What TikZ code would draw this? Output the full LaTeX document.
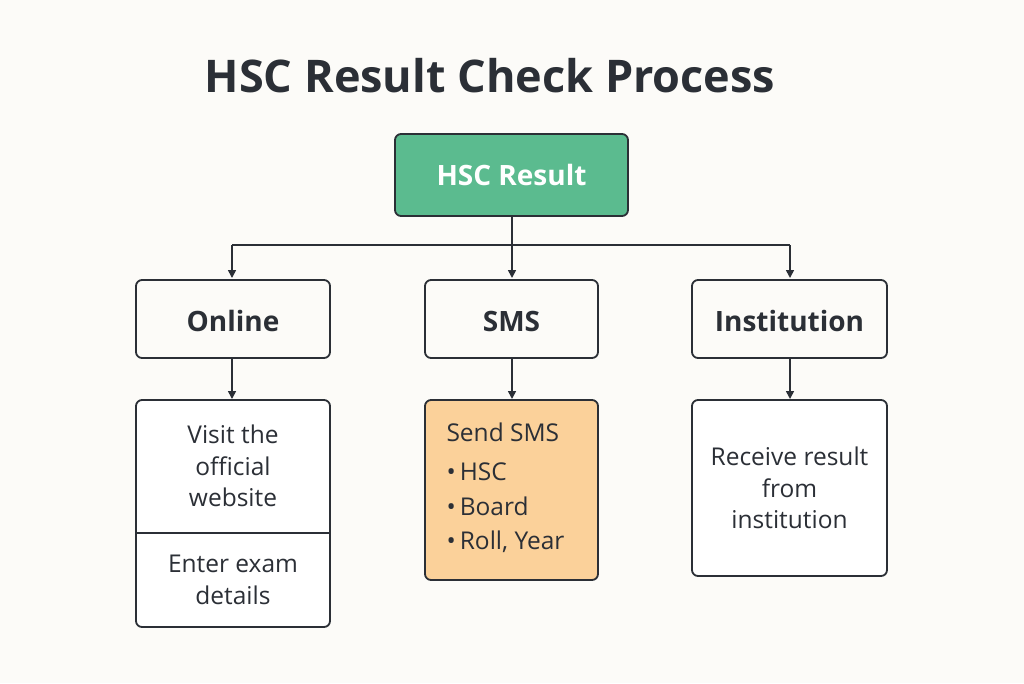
\documentclass[tikz,border=0pt]{standalone}
\usepackage{fontspec}
\setmainfont{Open Sans}
\usetikzlibrary{arrows.meta}
\definecolor{ink}{HTML}{2B2F36}
\definecolor{bg}{HTML}{FCFBF8}
\definecolor{grn}{HTML}{5BBB8F}
\definecolor{org}{HTML}{FBD19A}
\begin{document}
\begin{tikzpicture}[x=1pt,y=-1pt,
  box/.style={draw=ink,line width=1.8pt,rounded corners=6pt},
  arr/.style={draw=ink,line width=1.6pt,-{Triangle[length=8pt,width=8pt]}},
  lab/.style={font=\fontsize{28}{32}\selectfont\bfseries,text=ink},
  body/.style={font=\fontsize{24.5}{31.5}\selectfont,text=ink,align=center}]
\fill[bg] (0,0) rectangle (1024,683);
\useasboundingbox (0,0) rectangle (1024,683);
\node[font=\fontsize{45}{50}\selectfont\bfseries,text=ink] (title) at (490,76) {HSC Result Check Process};
\draw[box,fill=grn] (395,134) rectangle (628,216);
\node[font=\fontsize{28}{32}\selectfont\bfseries,text=white] (hsc) at (511.5,175) {HSC Result};
\coordinate (hb) at (512,216);
\coordinate (jl) at (232,245);\coordinate (jm) at (512,245);\coordinate (jr) at (790,245);
\draw[box] (136,280) rectangle (330,358);
\node[lab] (on) at (233,321) {Online};
\draw[box] (425,280) rectangle (598,358);
\node[lab] (sms) at (511.5,321) {SMS};
\draw[box] (692,280) rectangle (887,358);
\node[lab] (inst) at (789.5,321) {Institution};
\coordinate (onT) at (232,278);\coordinate (smsT) at (512,278);\coordinate (instT) at (790,278);
\draw[draw=ink,line width=1.6pt] (hb) -- (jm);
\draw[draw=ink,line width=1.6pt] (jl) -- (jr);
\draw[arr] (jl) -- (onT);
\draw[arr] (jm) -- (smsT);
\draw[arr] (jr) -- (instT);
\coordinate (onB) at (232,358);\coordinate (smsB) at (512,358);\coordinate (instB) at (790,358);
\coordinate (on2) at (232,399);\coordinate (sms2) at (512,399);\coordinate (inst2) at (790,399);
\draw[arr] (onB) -- (on2);
\draw[arr] (smsB) -- (sms2);
\draw[arr] (instB) -- (inst2);
\draw[box,fill=white] (136,400) rectangle (330,627);
\draw[ink,line width=1.8pt] (136,533) -- (330,533);
\node[body] (visit) at (233,466) {Visit the\\official\\website};
\node[body] (enter) at (233,580) {Enter exam\\details};
\draw[box,fill=org] (425,400) rectangle (598,580);
\node[body,align=left,anchor=north west,font=\fontsize{24.5}{34.5}\selectfont] (send) at (443,419) {Send SMS\\[5pt]•\,HSC\\•\,Board\\•\,Roll, Year};
\draw[box,fill=white] (692,400) rectangle (887,576);
\node[body] (recv) at (789.5,488) {Receive result\\from\\institution};
\end{tikzpicture}
\end{document}
